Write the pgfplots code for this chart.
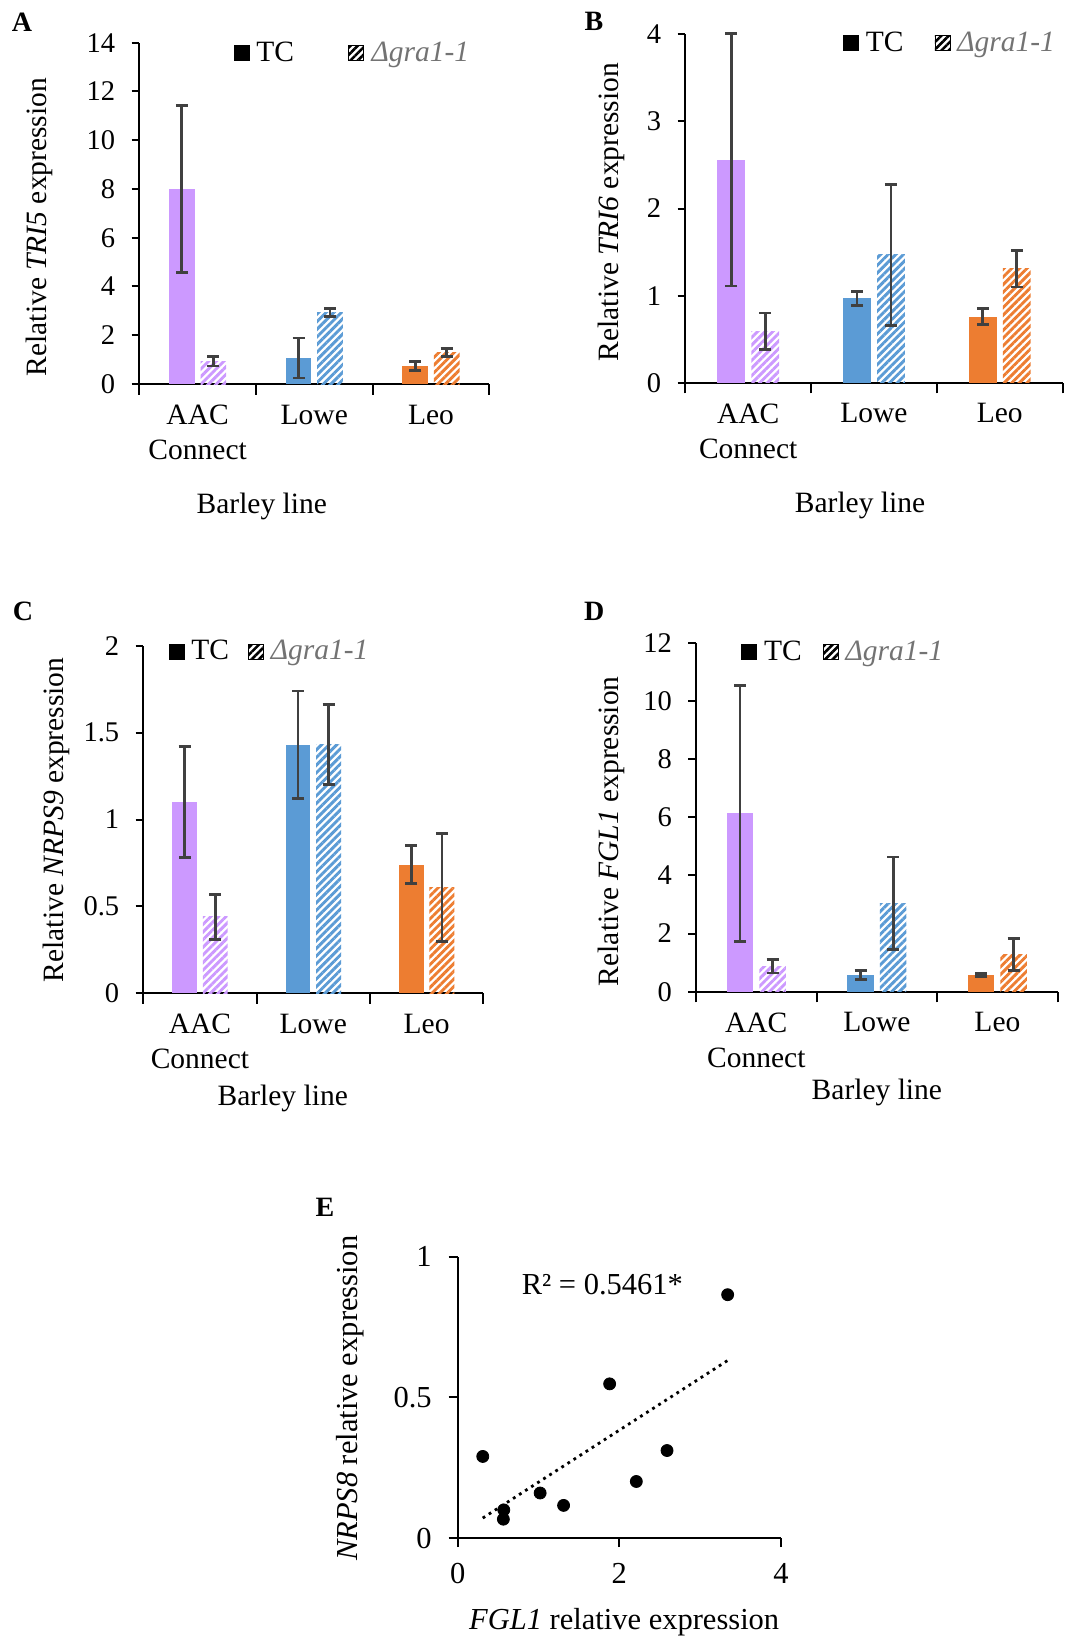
\documentclass[border=0pt]{standalone}
\usepackage{pgfplots}
\pgfplotsset{compat=1.18}
\usetikzlibrary{patterns.meta}
\usepackage{fontspec}
\setmainfont{Liberation Serif}

\definecolor{cpurple}{RGB}{204,153,255}
\definecolor{cblue}{RGB}{91,155,213}
\definecolor{corange}{RGB}{237,125,49}
\definecolor{errc}{RGB}{64,64,64}
\definecolor{leggray}{RGB}{115,115,115}

\newcommand{\tk}{\fontsize{14.25}{16.5}\selectfont}
\newcommand{\lb}{\fontsize{14.75}{17.5}\selectfont}
\newcommand{\eb}{\fontsize{15.25}{18}\selectfont}
\newcommand{\pl}{\fontsize{14}{16}\bfseries\selectfont}

% bars sit at category -0.135 (TC) and +0.135 (Δgra1-1)
\pgfplotsset{
  panel/.style={
    scale only axis,
    axis lines*=left,
    axis line style={line width=1pt, black},
    tick style={line width=1pt, black},
    tick align=outside,
    /pgf/number format/assume math mode=true,
    clip=false,
  },
  barpanel/.style={
    panel,
    xmin=-0.5, xmax=2.5, ymin=0,
    xtick={0,1,2},
    xticklabels={{AAC\\Connect},Lowe,Leo},
    x tick label style={align=center, font=\lb, yshift=-3pt},
    y tick label style={font=\tk, xshift=-4.7pt},
    major tick length=3.85pt,
    minor tick length=5.3pt,
    major x tick style={draw=none},
    minor xtick={-0.5,0.5,1.5,2.5},
    label style={font=\lb},
    legend style={draw=none, fill=none, inner sep=0pt, legend columns=2,
      font=\lb, anchor=west, nodes={inner sep=1.5pt},
      /tikz/every odd column/.append style={column sep=2pt}},
  },
  errs/.style={error bars/.cd, y dir=both, y explicit,
    error bar style={draw=errc, solid, line width=1.4pt},
    error mark options={rotate=90, mark size=3pt, line width=1.4pt, errc}},
  tcbar/.style={ybar, bar width=0.22, bar shift=0, draw=none, fill=#1, forget plot, errs},
  dbar/.style={ybar, bar width=0.22, bar shift=0, draw=none,
    pattern={Lines[angle=45, distance=2.7pt, line width=1.45pt]}, pattern color=#1,
    forget plot, errs},
}

\newcommand{\leg}{%
  \addlegendimage{legend image code/.code={\fill[black] (0pt,-3.75pt) rectangle (7.5pt,3.75pt);}}
  \addlegendentry{TC}
  \addlegendimage{legend image code/.code={\path[pattern={Lines[angle=45, distance=2.6pt, line width=1.3pt]}, pattern color=black] (0pt,-3.75pt) rectangle (7.5pt,3.75pt);}}
  \addlegendentry{\textcolor{leggray}{\textit{Δgra1-1}}}
}

\begin{document}
\begin{tikzpicture}

% A
\begin{axis}[barpanel, anchor=south west, at={(69.65pt,-192pt)},
  width=175pt, height=170.65pt, ymax=14, ytick={0,2,...,14},
  ylabel={Relative \textit{TRI5} expression}, xlabel={Barley line},
  ylabel style={at={(axis description cs:-0.286,0.46)}, anchor=center},
  xlabel style={at={(axis description cs:0.35,-0.36)}, anchor=center},
  legend style={at={(0.268,0.97)}, /tikz/every even column/.append style={column sep=25pt}}]
\addplot[tcbar=cpurple] coordinates {(-0.135,8.00) +- (0,3.41)};
\addplot[tcbar=cblue]   coordinates {(0.865,1.07) +- (0,0.82)};
\addplot[tcbar=corange] coordinates {(1.865,0.75) +- (0,0.18)};
\addplot[dbar=cpurple]  coordinates {(0.135,0.93) +- (0,0.19)};
\addplot[dbar=cblue]    coordinates {(1.135,2.94) +- (0,0.17)};
\addplot[dbar=corange]  coordinates {(2.135,1.30) +- (0,0.16)};
\leg
\end{axis}

% B
\begin{axis}[barpanel, anchor=south west, at={(342.65pt,-191.35pt)},
  width=188.7pt, height=174.2pt, ymax=4, ytick={0,1,...,4},
  ylabel={Relative \textit{TRI6} expression}, xlabel={Barley line},
  ylabel style={at={(axis description cs:-0.196,0.49)}, anchor=center},
  xlabel style={at={(axis description cs:0.463,-0.351)}, anchor=center},
  legend style={at={(0.417,0.975)}, /tikz/every even column/.append style={column sep=14pt}}]
\addplot[tcbar=cpurple] coordinates {(-0.135,2.56) +- (0,1.45)};
\addplot[tcbar=cblue]   coordinates {(0.865,0.97) +- (0,0.08)};
\addplot[tcbar=corange] coordinates {(1.865,0.76) +- (0,0.09)};
\addplot[dbar=cpurple]  coordinates {(0.135,0.59) +- (0,0.21)};
\addplot[dbar=cblue]    coordinates {(1.135,1.47) +- (0,0.81)};
\addplot[dbar=corange]  coordinates {(2.135,1.31) +- (0,0.21)};
\leg
\end{axis}

% C
\begin{axis}[barpanel, anchor=south west, at={(71.65pt,-496.65pt)},
  width=170pt, height=173.8pt, ymax=2, ytick={0,0.5,...,2},
  yticklabels={0,0.5,1,1.5,2},
  ylabel={Relative \textit{NRPS9} expression}, xlabel={Barley line},
  ylabel style={at={(axis description cs:-0.255,0.499)}, anchor=center},
  xlabel style={at={(axis description cs:0.41,-0.302)}, anchor=center},
  legend style={at={(0.073,0.983)}, /tikz/every even column/.append style={column sep=8pt}}]
\addplot[tcbar=cpurple] coordinates {(-0.135,1.10) +- (0,0.32)};
\addplot[tcbar=cblue]   coordinates {(0.865,1.43) +- (0,0.31)};
\addplot[tcbar=corange] coordinates {(1.865,0.74) +- (0,0.11)};
\addplot[dbar=cpurple]  coordinates {(0.135,0.44) +- (0,0.13)};
\addplot[dbar=cblue]    coordinates {(1.135,1.43) +- (0,0.23)};
\addplot[dbar=corange]  coordinates {(2.135,0.61) +- (0,0.31)};
\leg
\end{axis}

% D
\begin{axis}[barpanel, anchor=south west, at={(348pt,-495.85pt)},
  width=180.85pt, height=174.5pt, ymax=12, ytick={0,2,...,12},
  ylabel={Relative \textit{FGL1} expression}, xlabel={Barley line},
  ylabel style={at={(axis description cs:-0.235,0.46)}, anchor=center},
  xlabel style={at={(axis description cs:0.5,-0.289)}, anchor=center},
  legend style={at={(0.124,0.974)}, /tikz/every even column/.append style={column sep=9pt}}]
\addplot[tcbar=cpurple] coordinates {(-0.135,6.13) +- (0,4.40)};
\addplot[tcbar=cblue]   coordinates {(0.865,0.57) +- (0,0.15)};
\addplot[tcbar=corange] coordinates {(1.865,0.57) +- (0,0.055)};
\addplot[dbar=cpurple]  coordinates {(0.135,0.88) +- (0,0.235)};
\addplot[dbar=cblue]    coordinates {(1.135,3.04) +- (0,1.59)};
\addplot[dbar=corange]  coordinates {(2.135,1.28) +- (0,0.545)};
\leg
\end{axis}

% E
\begin{axis}[panel, anchor=south west, at={(228.85pt,-769pt)},
  width=161.65pt, height=140.65pt,
  xmin=0, xmax=4, ymin=0, ymax=1,
  xtick={0,2,4}, ytick={0,0.5,1}, yticklabels={0,0.5,1},
  major tick length=4.5pt,
  x tick label style={font=\eb, yshift=-4.5pt},
  y tick label style={font=\eb, xshift=-5pt},
  label style={font=\eb},
  ylabel={\textit{NRPS8} relative expression},
  xlabel={\textit{FGL1} relative expression},
  ylabel style={at={(axis description cs:-0.333,0.497)}, anchor=center},
  xlabel style={at={(axis description cs:0.515,-0.2976)}, anchor=center}]
\addplot[only marks, mark=*, mark size=3pt, black] coordinates {
  (0.31,0.290) (0.57,0.100) (0.565,0.067) (1.02,0.160) (1.31,0.116)
  (1.88,0.548) (2.21,0.201) (2.59,0.311) (3.34,0.865)};
\addplot[black, line width=1.4pt, dash pattern=on 1.4pt off 2.2pt] coordinates {(0.31,0.071) (3.35,0.633)};
\node[font=\eb] at (axis cs:1.79,0.9) {R² = 0.5461*};
\end{axis}

\node[font=\pl] at (11pt,-11pt) {A};
\node[font=\pl] at (297pt,-10.5pt) {B};
\node[font=\pl] at (11.5pt,-305.85pt) {C};
\node[font=\pl] at (297.15pt,-305.85pt) {D};
\node[font=\pl] at (162.5pt,-603.5pt) {E};

\pgfresetboundingbox
\path[use as bounding box] (0,0) rectangle (541pt,-819.5pt);
\end{tikzpicture}
\end{document}
